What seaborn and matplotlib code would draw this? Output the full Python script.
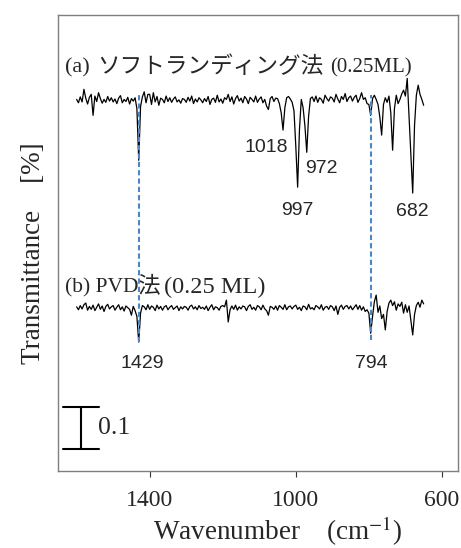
import numpy as np
import pandas as pd
import seaborn as sns
import matplotlib.pyplot as plt

# sampled wavenumbers (cm-1), high to low
wavenumber = np.arange(1600, 645, -5)

# offsets from each baseline, in units of 0.001 transmittance
trace_a = [2, -6, 8, -4, 26, 5, -9, 7, 14, -36,
           10, -3, 18, 4, -7, 2, -5, 9, -2, 6,
           -4, 3, -8, 5, 11, -6, 2, -3, 7, -9,
           4, -2, 6, -20, -143, -15, 8, 20, -6, 14,
           14, -10, 18, -4, 9, -12, 5, 2, -6, 10,
           -3, 6, -5, 3, 8, -4, 1, -7, 4, 2,
           -5, 7, -2, 10, -8, 3, -4, 6, 1, -6,
           4, -3, 9, -10, 2, 5, -5, 12, -4, 3,
           -7, 6, 2, 14, -3, 8, -9, 4, 11, -2,
           5, -6, 9, 3, -8, 7, 2, -4, 10, -5,
           3, 8, -6, 2, -14, -22, 4, 9, -3, 5,
           4, -8, -30, -71, -18, 6, 9, 3, -5, -25,
           -110, -207, -70, 2, -18, -62, -124, -38, 4, 8,
           -3, 10, -5, 6, 2, -7, 12, 4, -2, 8,
           5, -4, 14, 3, -6, 9, 2, 16, -3, 6,
           10, -2, 7, 12, -5, 4, 18, 2, 6, -8,
           -10, -36, 4, 12, 2, -10, -40, -83, -10, 6,
           -5, 10, -30, -119, -20, 12, -8, 2, 15, 24,
           10, 52, -40, -130, -221, -60, 12, 36, 14, 2,
           -12]

trace_b = [3, -4, 6, -2, 8, 12, -5, 4, -3, 7,
           -6, 2, 10, -3, 5, -8, 4, 9, -2, 3,
           6, -5, 2, 8, -4, 3, -7, 5, 1, -3,
           -17, 4, -6, -20, -81, -12, 6, 3, -4, 8,
           -3, 5, 2, -6, 7, -2, 4, -5, 3, 6,
           -4, 2, 6, -3, 1, 5, -6, 3, -2, 4,
           2, -5, 4, 7, -2, 3, -4, 6, -1, 2,
           -3, 5, -6, 2, 8, -4, 3, 1, -5, 4,
           6, 3, 19, -33, -4, 5, -3, 7, -5, 3,
           -2, 5, 3, -6, 4, 8, -3, 2, -5, 6,
           3, -4, 7, -2, -6, -17, 4, 2, -3, 5,
           -5, 6, 2, -3, 8, -4, 3, 5, -2, 4,
           7, -3, 2, -6, 5, 3, -4, 9, -2, 1,
           -4, 6, 3, -2, 8, -5, 2, 4, -3, 6,
           3, -6, 5, -15, 2, 7, -3, 4, 6, -2,
           5, -4, 2, 8, -3, 6, -5, 3, -8, -4,
           -12, -60, -20, 15, 31, -10, 5, -25, -15, -52,
           -8, 12, 19, 6, 15, -5, 10, 4, 14, -12,
           8, -10, 5, -30, -64, -15, 6, 14, 2, 19,
           10]

base_a = 0.883
base_b = 0.388
marked_peaks = [1429, 794]
peak_numbers = [1018, 972, 997, 682, 1429, 794]
scale_bar = 0.1

df = pd.concat([
    pd.DataFrame({'wn': wavenumber, 'T': base_a + np.array(trace_a) / 1000, 'trace': 'a'}),
    pd.DataFrame({'wn': wavenumber, 'T': base_b + np.array(trace_b) / 1000, 'trace': 'b'}),
])

sns.set_style('white')
plt.rcParams['font.family'] = ['Liberation Serif', 'Noto Sans CJK JP']
plt.rcParams['mathtext.fontset'] = 'stix'

fig = plt.figure(figsize=(4.61, 5.48), dpi=100)
ax = fig.add_axes([0.1258, 0.1405, 0.8677, 0.8321])

sns.lineplot(data=df, x='wn', y='T', units='trace', estimator=None,
             color='black', lw=0.9, ax=ax)

# dashed markers
ax.vlines(marked_peaks[0], 0.307, 0.902, color='#4a86c8', lw=1.5,
          linestyles=(0, (2.5, 1.5)), zorder=5)
ax.vlines(marked_peaks[1], 0.312, 0.895, color='#4a86c8', lw=1.5,
          linestyles=(0, (2.5, 1.5)), zorder=5)

# peak labels
lab_pos = {1018: (1082, 0.771), 972: (930, 0.721), 997: (996, 0.621),
           682: (681, 0.617), 1429: (1419, 0.255), 794: (792, 0.255)}
for p in peak_numbers:
    x, y = lab_pos[p]
    ax.text(x, y, str(p), ha='center', va='center', fontsize=14,
            family='Liberation Sans')

# trace titles
ax.text(1633, 0.948, '(a)', fontsize=16, va='baseline')
ax.text(1545, 0.948, 'ソフトランディング法', fontsize=16.3, va='baseline',
        family='Noto Sans CJK JP')
ax.text(907, 0.948, '(0.25ML)', fontsize=15, va='baseline')
ax.text(1633, 0.424, '(b) PVD', fontsize=15.5, va='baseline')
ax.text(1434, 0.424, '法', fontsize=16.3, va='baseline', family='Noto Sans CJK JP')
ax.text(1360, 0.424, '(0.25 ML)', fontsize=17.5, va='baseline')

# scale bar
ax.plot([1636, 1540], [0.052, 0.052], color='black', lw=1.5)
ax.plot([1636, 1540], [0.052 + scale_bar, 0.052 + scale_bar], color='black', lw=1.5)
ax.plot([1589, 1589], [0.052, 0.052 + scale_bar], color='black', lw=1.5)
ax.text(1542, 0.102, '0.1', fontsize=18.5, va='center', ha='left')

ax.set_xlim(1651, 556)
ax.set_ylim(0, 1.086)
ax.set_xticks([1400, 1000, 600])
ax.set_yticks([])
ax.tick_params(axis='x', direction='out', length=4, width=0.8, color='#333333',
               labelsize=17, pad=10, bottom=True)
for s in ax.spines.values():
    s.set_color('#7f7f7f')
    s.set_linewidth(1.0)

ax.set_xlabel('Wavenumber    (cm$^{-1}$)', fontsize=19.5)
ax.xaxis.set_label_coords(0.55, -0.132)
ax.xaxis.label.set_va('center')
ax.set_ylabel('Transmittance    [%]', fontsize=19.5)
ax.yaxis.set_label_coords(-0.06, 0.477)
ax.yaxis.label.set_va('center')

fig.savefig('out.png', dpi=100)
